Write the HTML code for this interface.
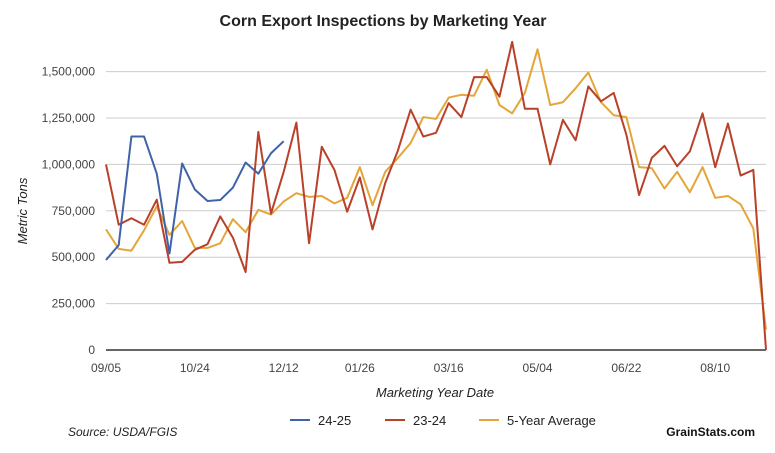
<!DOCTYPE html>
<html><head><meta charset="utf-8"><style>
html,body{margin:0;padding:0;background:#fff;}
svg{display:block;font-family:"Liberation Sans",Arial,sans-serif;}
</style></head><body>
<svg id="chart" width="775" height="453" viewBox="0 0 775 453">
<text x="383" y="26" text-anchor="middle" font-size="16" font-weight="bold" fill="#222">Corn Export Inspections by Marketing Year</text>
<g id="grid"></g>
<g id="yticks"></g>
<g id="xticks"></g>
<g id="series"></g>
<text transform="translate(27,211) rotate(-90)" text-anchor="middle" font-size="13" font-style="italic" fill="#222">Metric Tons</text>
<text x="435" y="397" text-anchor="middle" font-size="13" font-style="italic" fill="#222">Marketing Year Date</text>
<g>
<g><line x1="290" y1="420" x2="310" y2="420" stroke="#3f63a8" stroke-width="2"/><text x="318" y="425" font-size="13" fill="#222">24-25</text></g>
<g><line x1="385" y1="420" x2="405" y2="420" stroke="#b9412a" stroke-width="2"/><text x="413" y="425" font-size="13" fill="#222">23-24</text></g>
<g><line x1="479" y1="420" x2="499" y2="420" stroke="#e4a53a" stroke-width="2"/><text x="507" y="425" font-size="13" fill="#222">5-Year Average</text></g>
</g>
<text x="68" y="436" font-size="12" font-style="italic" fill="#222">Source: USDA/FGIS</text>
<text x="755" y="436" text-anchor="end" font-size="12" font-weight="bold" fill="#111">GrainStats.com</text>
</svg>
<script>
const yTicks=[0,250000,500000,750000,1000000,1250000,1500000];
const xTickLabels=["09/05","10/24","12/12","01/26","03/16","05/04","06/22","08/10"];
const xTickWeeks=[0,7,14,20,27,34,41,48];
const s2425=[485000,565000,1150000,1150000,950000,520000,1005000,865000,803000,808000,875000,1010000,950000,1060000,1125000];
const s2324=[1000000,675000,710000,675000,810000,470000,475000,540000,570000,720000,605000,420000,1175000,735000,960000,1225000,575000,1095000,970000,745000,930000,650000,900000,1075000,1295000,1150000,1170000,1330000,1255000,1470000,1470000,1365000,1660000,1300000,1300000,1000000,1240000,1130000,1420000,1340000,1385000,1160000,835000,1035000,1100000,990000,1070000,1275000,985000,1220000,940000,970000,0];
const s5yr=[650000,545000,535000,645000,775000,620000,695000,550000,550000,575000,705000,635000,755000,730000,800000,845000,825000,830000,790000,820000,985000,780000,960000,1035000,1115000,1255000,1245000,1360000,1375000,1370000,1510000,1320000,1275000,1385000,1620000,1320000,1335000,1410000,1495000,1335000,1265000,1255000,985000,980000,870000,960000,850000,985000,820000,830000,785000,655000,110000];
const NS="http://www.w3.org/2000/svg";
const X0=106,X1=766,Y0=350,Y1=71.6,NW=52,VMAX=1500000;
const xs=i=>X0+(X1-X0)*i/NW;
const ys=v=>Y0-(Y0-Y1)*v/VMAX;
function mk(tag,attrs,parent){const e=document.createElementNS(NS,tag);for(const k in attrs)e.setAttribute(k,attrs[k]);parent.appendChild(e);return e;}
const grid=document.getElementById('grid'),yt=document.getElementById('yticks'),xt=document.getElementById('xticks'),ser=document.getElementById('series');
yTicks.forEach(v=>{
  const l=mk('line',{x1:X0,x2:X1,y1:ys(v),y2:ys(v),stroke:v===0?'#333':'#ccc','stroke-width':v===0?1.5:1},grid);
  
  
  const t=mk('text',{x:95,y:ys(v)+4,'text-anchor':'end','font-size':12,fill:'#444'},yt);
  t.textContent=v.toLocaleString('en-US');
  
  
});
xTickLabels.forEach((lab,i)=>{
  const t=mk('text',{x:xs(xTickWeeks[i]),y:372,'text-anchor':'middle','font-size':12,fill:'#444'},xt);
  t.textContent=lab;
  
  
});
[[s5yr,'#e4a53a','line-5yr-avg'],[s2324,'#b9412a','line-23-24'],[s2425,'#3f63a8','line-24-25']].forEach(([d,c,n])=>{
  const p=mk('polyline',{points:d.map((v,i)=>xs(i)+','+ys(v)).join(' '),fill:'none',stroke:c,'stroke-width':2,'stroke-linejoin':'round'},ser);
  
  
});
</script>
</body></html>
